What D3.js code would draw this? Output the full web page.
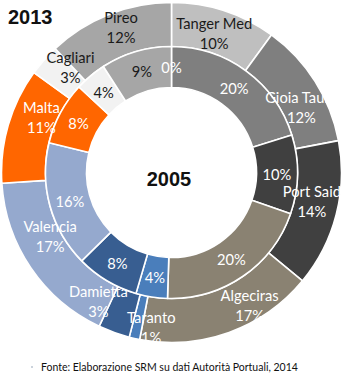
<!DOCTYPE html>
<html><head><meta charset="utf-8">
<script src="https://cdn.jsdelivr.net/npm/d3@7"></script>
<style>html,body{margin:0;padding:0;background:#fff;}svg{display:block;}</style>
</head><body>
<script>
// ---- data ----
const categories = ["Tanger Med","Gioia Tauro","Port Said","Algeciras","Taranto","Damietta","Valencia","Malta","Cagliari","Pireo"];
const values2013 = [10,12,14,17,1,3,17,11,3,12];
const values2005 = [0,20,10,20,4,8,16,8,4,9];
const ringTitles = ["2013","2005"];
const sourceNote = "Fonte: Elaborazione SRM su dati Autorità Portuali, 2014";

// ---- style ----
const palette = ["#bfbfbf","#7f7f7f","#404040","#8a8272","#4a7ebb","#385e91","#95a9ce","#ff6600","#f2f2f2","#a6a6a6"];
const darkText = new Set(["Tanger Med","Cagliari","Pireo"]);
// label nudges (px) for outer-ring labels relative to the slice centroid
const outerNudge = [[-3,1],[5,14],[-3,-8],[28,-7],[12,10],[-23,-11],[1,-20],[12,-14],[10,-8],[4,-8]];

const W = 343, H = 374, cx = 171.5, cy = 172.5;
const R0 = 85, R1 = 126, R2 = 170;
const font = "Lato, 'Open Sans', sans-serif";
const fs = 14.7;

const svg = d3.select("body").append("svg").attr("width", W).attr("height", H);
const g = svg.append("g").attr("transform", `translate(${cx},${cy})`);

const pie = d3.pie().sort(null).value(d => d);
const arcOuter = d3.arc().innerRadius(R1).outerRadius(R2);
const arcInner = d3.arc().innerRadius(R0).outerRadius(R1);

const outer = pie(values2013);
const inner = pie(values2005);

g.selectAll("path.o").data(outer).join("path").attr("class","o")
  .attr("d", arcOuter).attr("fill", (d,i) => palette[i])
  .attr("stroke", "#fff").attr("stroke-width", 1.6).attr("stroke-linejoin","round");
g.selectAll("path.i").data(inner).join("path").attr("class","i")
  .attr("d", arcInner).attr("fill", (d,i) => palette[i])
  .attr("stroke", "#fff").attr("stroke-width", 1.6).attr("stroke-linejoin","round");

// inner labels
g.selectAll("text.il").data(inner).join("text").attr("class","il")
  .attr("transform", d => `translate(${arcInner.centroid(d)})`)
  .attr("text-anchor","middle").attr("dominant-baseline","central")
  .attr("font-family", font).attr("font-size", fs)
  .attr("fill", (d,i) => darkText.has(categories[i]) && values2005[i] > 0 ? "#1a1a1a" : "#fff")
  .text((d,i) => values2005[i] + "%");

// outer labels
const ol = g.selectAll("g.ol").data(outer).join("g").attr("class","ol")
  .attr("transform", (d,i) => { const c = arcOuter.centroid(d); return `translate(${c[0]+outerNudge[i][0]},${c[1]+outerNudge[i][1]})`; });
ol.append("text").attr("text-anchor","middle").attr("dominant-baseline","central")
  .attr("y", -10).attr("font-family", font).attr("font-size", fs)
  .attr("fill", (d,i) => darkText.has(categories[i]) ? "#1a1a1a" : "#fff")
  .text((d,i) => categories[i]);
ol.append("text").attr("text-anchor","middle").attr("dominant-baseline","central")
  .attr("y", 10).attr("font-family", font).attr("font-size", fs)
  .attr("fill", (d,i) => darkText.has(categories[i]) ? "#1a1a1a" : "#fff")
  .text((d,i) => values2013[i] + "%");

// ring titles
svg.append("text").attr("x", 8).attr("y", 24)
  .attr("font-family","'Liberation Sans', Arial, sans-serif").attr("font-weight","bold").attr("font-size", 20)
  .attr("fill","#111").text(ringTitles[0]);
svg.append("text").attr("x", 169).attr("y", 186).attr("text-anchor","middle")
  .attr("font-family","'Liberation Sans', Arial, sans-serif").attr("font-weight","bold").attr("font-size", 20)
  .attr("fill","#111").text(ringTitles[1]);

// source note
svg.append("circle").attr("cx", 32).attr("cy", 367).attr("r", 0.8).attr("fill", "#8a9bb0");
svg.append("text").attr("x", 41).attr("y", 371)
  .attr("font-family", font).attr("font-size", 10.5).attr("fill","#111").text(sourceNote);
</script>
</body></html>
